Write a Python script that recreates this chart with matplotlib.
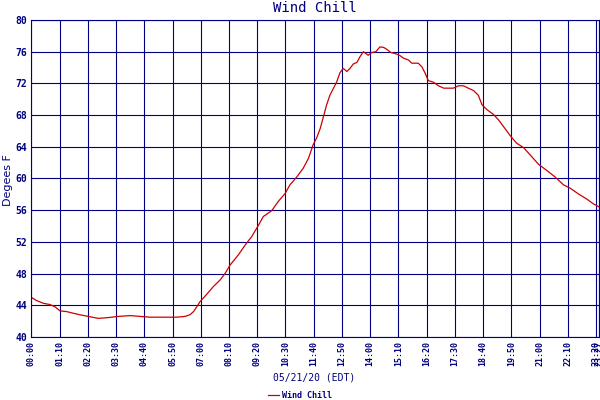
import matplotlib
matplotlib.use("Agg")
import matplotlib.pyplot as plt
import numpy as np

# minutes after midnight, 05/21/20
minutes = [0, 13, 30, 46, 59, 71, 88, 104, 121, 141, 166, 191, 216, 245, 270,
           294, 327, 360, 381, 393, 402, 410, 418, 435, 451, 468, 480, 493,
           513, 530, 546, 563, 575, 596, 612, 629, 641, 658, 674, 687, 698,
           707, 716, 724, 732, 740, 749, 757, 765, 773, 782, 790, 798, 807,
           815, 823, 831, 835, 844, 854, 864, 873, 881, 891, 906, 914, 922,
           935, 943, 959, 968, 976, 984, 997, 1009, 1022, 1046, 1059, 1071,
           1083, 1096, 1108, 1117, 1129, 1145, 1158, 1174, 1187, 1203, 1220,
           1236, 1257, 1278, 1298, 1319, 1335, 1356, 1377, 1393, 1406]
wind_chill = [45.0, 44.6, 44.25, 44.1, 43.8, 43.3, 43.2, 43.0, 42.8, 42.6,
              42.35, 42.45, 42.6, 42.7, 42.6, 42.5, 42.5, 42.5, 42.6, 42.8,
              43.2, 43.8, 44.45, 45.4, 46.35, 47.2, 48.0, 49.1, 50.35, 51.6,
              52.65, 54.1, 55.2, 55.95, 57.1, 58.1, 59.2, 60.2, 61.3, 62.55,
              64.2, 65.1, 66.3, 67.8, 69.3, 70.5, 71.4, 72.2, 73.35, 73.9,
              73.5, 73.9, 74.45, 74.65, 75.4, 76.0, 75.7, 75.55, 75.9, 76.0,
              76.6, 76.55, 76.3, 75.9, 75.7, 75.5, 75.2, 74.95, 74.55, 74.55,
              74.1, 73.3, 72.35, 72.15, 71.7, 71.4, 71.4, 71.7, 71.7, 71.4,
              71.1, 70.5, 69.3, 68.7, 68.1, 67.4, 66.3, 65.4, 64.45, 63.9,
              63.0, 61.8, 61.0, 60.2, 59.2, 58.8, 58.05, 57.4, 56.8, 56.45]

tick_minutes = list(range(0, 1401, 70)) + [1407]
tick_labels = ["%02d:%02d" % (m // 60, m % 60) for m in tick_minutes]
y_ticks = list(range(40, 81, 4))

navy = "#000080"
mono = "DejaVu Sans Mono"

fig = plt.figure(figsize=(6, 4), dpi=100)
ax = fig.add_axes([31.3 / 600, 1 - 337 / 400, (599 - 31.3) / 600, 317 / 400])

ax.plot(minutes, wind_chill, color="#cc0000", lw=0.9, label="Wind Chill")

ax.set_xlim(0, 1407)
ax.set_ylim(40, 80)
ax.set_xticks(tick_minutes)
ax.set_xticklabels(tick_labels, rotation=90, fontsize=6, family=mono,
                   color=navy, fontweight="bold")
ax.set_yticks(y_ticks)
ax.set_yticklabels([str(v) for v in y_ticks], fontsize=7, family=mono,
                   color=navy, fontweight="bold")
ax.tick_params(length=0, pad=3)
ax.grid(True, color=navy, lw=0.8)
ax.set_axisbelow(True)
for s in ax.spines.values():
    s.set_color(navy)
    s.set_linewidth(0.8)

fig.text(315 / 600, 1 - 8 / 400, "Wind Chill", ha="center", va="center",
         fontsize=10, family=mono, color=navy)
fig.text(8 / 600, 1 - 180 / 400, "Degees F", ha="center", va="center",
         rotation=90, fontsize=8, family="DejaVu Sans", color=navy)
fig.text(314 / 600, 1 - 378 / 400, "05/21/20 (EDT)", ha="center", va="center",
         fontsize=7, family=mono, color=navy)

fig.legend(loc="center", bbox_to_anchor=(300 / 600, 1 - 395 / 400),
           frameon=False, handlelength=1.3, handletextpad=0.3,
           prop={"family": mono, "size": 6, "weight": "bold"},
           labelcolor=navy)

fig.savefig("out.png", dpi=100)
